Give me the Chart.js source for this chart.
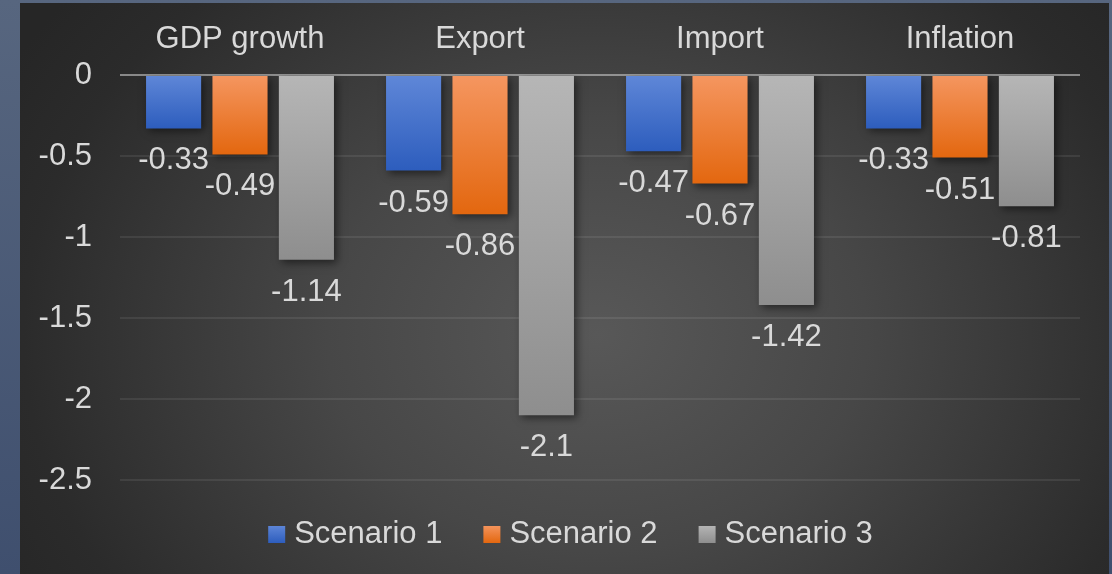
<!DOCTYPE html>
<html>
<head>
<meta charset="utf-8">
<script src="https://cdn.jsdelivr.net/npm/chart.js@4.4.1/dist/chart.umd.min.js"></script>
<style>
  html, body { margin: 0; padding: 0; }
  body {
    width: 1112px; height: 574px; overflow: hidden;
    background: linear-gradient(180deg, #57667f 0%, #3f4f6e 100%);
    position: relative;
  }
  #panel {
    position: absolute; left: 20px; top: 3px; width: 1089px; height: 571px;
    background: radial-gradient(ellipse 62% 95% at 53% 58%, #585858 0%, #474747 40%, #2b2b2b 85%, #262626 100%);
  }
</style>
</head>
<body>
<div id="panel"><canvas id="grafico" width="1089" height="571"></canvas></div>
<script>
const categorias = ['GDP growth', 'Export', 'Import', 'Inflation'];
const nomesSeries = ['Scenario 1', 'Scenario 2', 'Scenario 3'];
const cenario1 = [-0.33, -0.59, -0.47, -0.33];
const cenario2 = [-0.49, -0.86, -0.67, -0.51];
const cenario3 = [-1.14, -2.1, -1.42, -0.81];
const ticksY = [0, -0.5, -1, -1.5, -2, -2.5];

// cores de cada série: topo claro -> base escura
const cores = [
  { topo: '#5f87d8', base: '#2d5dbd', legenda: '#4472c4' },
  { topo: '#f59660', base: '#e3670f', legenda: '#ed7d31' },
  { topo: '#b6b6b6', base: '#8e8e8e', legenda: '#a5a5a5' }
];

const fonte = "'Liberation Sans', Arial, sans-serif";
const corTexto = '#d9d9d9';

function gradienteBarra(i) {
  return (ctx) => {
    const chart = ctx.chart;
    const y = chart.scales && chart.scales.y;
    if (!chart.chartArea || !y || ctx.type !== 'data') return cores[i].legenda;
    const y0 = y.getPixelForValue(0);
    const y1 = y.getPixelForValue(ctx.raw);
    if (!isFinite(y0) || !isFinite(y1) || y0 === y1) return cores[i].legenda;
    const g = chart.ctx.createLinearGradient(0, y0, 0, y1);
    g.addColorStop(0, cores[i].topo);
    g.addColorStop(1, cores[i].base);
    return g;
  };
}

const series = [cenario1, cenario2, cenario3];

// sombra nas barras + rótulos de valor abaixo de cada barra
const rotulosPlugin = {
  id: 'rotulos',
  beforeDatasetsDraw(chart) {
    const c = chart.ctx;
    c.save();
    c.shadowColor = 'rgba(0,0,0,0.5)';
    c.shadowBlur = 8;
    c.shadowOffsetX = 3;
    c.shadowOffsetY = 3;
  },
  afterDatasetsDraw(chart) {
    const c = chart.ctx;
    c.restore();
    c.save();
    c.font = '31px ' + fonte;
    c.fillStyle = corTexto;
    c.textAlign = 'center';
    c.textBaseline = 'alphabetic';
    chart.data.datasets.forEach((ds, i) => {
      chart.getDatasetMeta(i).data.forEach((barra, j) => {
        c.fillText(String(ds.data[j]), barra.x, barra.y + 41);
      });
    });
    c.restore();
  }
};

// legenda desenhada embaixo, centralizada
const legendaPlugin = {
  id: 'legendaBaixo',
  afterDraw(chart) {
    const c = chart.ctx;
    c.save();
    c.font = '31px ' + fonte;
    c.textBaseline = 'middle';
    const caixa = 17, espaco = 9, intervalo = 41;
    const larguras = nomesSeries.map(n => caixa + espaco + c.measureText(n).width);
    const total = larguras.reduce((a, b) => a + b, 0) + intervalo * (nomesSeries.length - 1);
    let x = chart.width / 2 + 6 - total / 2;
    const yc = 531;
    nomesSeries.forEach((n, i) => {
      const g = c.createLinearGradient(0, yc - 9, 0, yc + 9);
      g.addColorStop(0, cores[i].topo);
      g.addColorStop(1, cores[i].base);
      c.fillStyle = g;
      c.fillRect(x, yc - 8, caixa, caixa);
      c.fillStyle = corTexto;
      c.fillText(n, x + caixa + espaco, yc);
      x += larguras[i] + intervalo;
    });
    c.restore();
  }
};

new Chart(document.getElementById('grafico'), {
  type: 'bar',
  data: {
    labels: categorias,
    datasets: series.map((dados, i) => ({
      label: nomesSeries[i],
      data: dados,
      backgroundColor: gradienteBarra(i),
      borderWidth: 0,
      categoryPercentage: 0.83,
      barPercentage: 0.83
    }))
  },
  options: {
    responsive: false,
    animation: false,
    layout: { padding: { left: 0, right: 29, top: 0, bottom: 94 } },
    plugins: {
      legend: { display: false },
      tooltip: { enabled: false }
    },
    scales: {
      x: {
        position: 'top',
        grid: { display: false },
        border: { display: false },
        ticks: { color: corTexto, font: { family: fonte, size: 31 }, padding: 9 },
        afterFit(scale) { scale.height = 72; }
      },
      y: {
        min: -2.5,
        max: 0,
        afterBuildTicks(scale) { scale.ticks = ticksY.map(v => ({ value: v })); },
        ticks: {
          color: corTexto,
          font: { family: fonte, size: 31 },
          padding: 28,
          callback: (v) => String(v)
        },
        grid: {
          drawTicks: false,
          lineWidth: 2,
          color: (ctx) => ctx.tick && ctx.tick.value === 0 ? 'rgba(200,200,200,0.6)' : 'rgba(255,255,255,0.08)'
        },
        border: { display: false },
        afterFit(scale) { scale.width = 100; }
      }
    }
  },
  plugins: [rotulosPlugin, legendaPlugin]
});
</script>
</body>
</html>
